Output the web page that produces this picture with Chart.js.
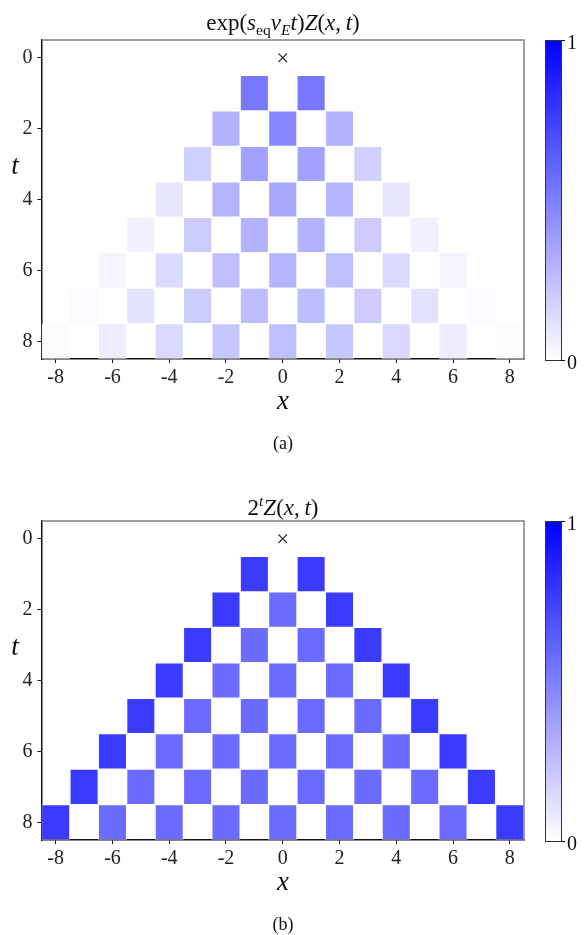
<!DOCTYPE html>
<html>
<head>
<meta charset="utf-8">
<script src="https://cdn.jsdelivr.net/npm/chart.js@4.4.1/dist/chart.umd.min.js"></script>
<style>
  body { margin: 0; background: #fff; }
  #page { position: relative; width: 587px; height: 935px; font-family: "Liberation Serif", serif; color: #111; }
  .box { position: absolute; left: 0; width: 587px; height: 400px; }
  .txt { position: absolute; white-space: nowrap; transform: translate(-50%, -50%); line-height: 1; }
  .title { font-size: 23px; }
  .lab { font-size: 27px; font-style: italic; }
  .cap { font-size: 18px; }
  .cbar { position: absolute; left: 545px; width: 15px; height: 319px; border: 1px solid #333;
          background: linear-gradient(to top, #fff, #00f); }
  .ctick { position: absolute; left: 561px; width: 4px; height: 1px; background: #111; }
  .clab { position: absolute; left: 567px; font-size: 20px; transform: translateY(-50%); }
  sub, sup { font-size: 68%; line-height: 0; }
</style>
</head>
<body>
<div id="page">
  <div class="box" style="top:0"><canvas id="chartA"></canvas></div>
  <div class="box" style="top:481px"><canvas id="chartB"></canvas></div>

  <div class="txt title" style="left:283px; top:22px">exp(<i>s</i><sub>eq</sub><i>v</i><sub><i>E</i></sub><i>t</i>)<i>Z</i>(<i>x</i>,&thinsp;<i>t</i>)</div>
  <div class="txt lab" style="left:15px; top:165px">t</div>
  <div class="txt lab" style="left:283px; top:400px">x</div>
  <div class="txt cap" style="left:283px; top:443px">(a)</div>
  <div class="cbar" style="top:40px"></div>
  <div class="ctick" style="top:40px"></div>
  <div class="ctick" style="top:360px"></div>
  <div class="clab" style="top:42px">1</div>
  <div class="clab" style="top:362px">0</div>

  <div class="txt title" style="left:283px; top:507px">2<sup><i>t</i></sup><i>Z</i>(<i>x</i>,&thinsp;<i>t</i>)</div>
  <div class="txt lab" style="left:15px; top:646px">t</div>
  <div class="txt lab" style="left:283px; top:881px">x</div>
  <div class="txt cap" style="left:283px; top:924px">(b)</div>
  <div class="cbar" style="top:521px"></div>
  <div class="ctick" style="top:521px"></div>
  <div class="ctick" style="top:841px"></div>
  <div class="clab" style="top:523px">1</div>
  <div class="clab" style="top:843px">0</div>
</div>

<script>
// time steps drawn as rows; row t holds cells at x = -t, -t+2, ..., t
const tRows = [1, 2, 3, 4, 5, 6, 7, 8];
const xTicks = [-8, -6, -4, -2, 0, 2, 4, 6, 8];
const tTicks = [0, 2, 4, 6, 8];
const origin = [{ x: 0, y: 0 }];

// (a) exp(s_eq v_E t) Z(x,t), read left to right for each row
const valuesA = [
  [0.53, 0.53],
  [0.30, 0.47, 0.30],
  [0.18, 0.37, 0.37, 0.18],
  [0.10, 0.29, 0.34, 0.29, 0.10],
  [0.06, 0.20, 0.30, 0.30, 0.20, 0.06],
  [0.04, 0.14, 0.25, 0.29, 0.25, 0.14, 0.04],
  [0.02, 0.11, 0.20, 0.26, 0.26, 0.20, 0.11, 0.02],
  [0.01, 0.07, 0.15, 0.22, 0.25, 0.22, 0.15, 0.07, 0.01],
];

// (b) 2^t Z(x,t)
const valuesB = [
  [0.77, 0.77],
  [0.77, 0.58, 0.77],
  [0.77, 0.58, 0.58, 0.77],
  [0.77, 0.58, 0.58, 0.58, 0.77],
  [0.77, 0.58, 0.58, 0.58, 0.58, 0.77],
  [0.77, 0.58, 0.58, 0.58, 0.58, 0.58, 0.77],
  [0.77, 0.58, 0.58, 0.58, 0.58, 0.58, 0.58, 0.77],
  [0.77, 0.58, 0.58, 0.58, 0.58, 0.58, 0.58, 0.58, 0.77],
];

function blue(v) {
  const c = Math.round(255 * (1 - v));
  return `rgb(${c},${c},255)`;
}

function cells(values) {
  const out = [];
  tRows.forEach((t, i) => {
    values[i].forEach((v, k) => {
      const x = -t + 2 * k;
      out.push({ y: t, x: [x - 0.5, x + 0.5], v: v });
    });
  });
  return out;
}

const framePlugin = {
  id: "frame",
  afterDraw(chart) {
    const a = chart.chartArea;
    const ctx = chart.ctx;
    ctx.save();
    ctx.strokeStyle = "#808080";
    ctx.lineWidth = 1.5;
    ctx.beginPath();
    ctx.moveTo(a.left, a.top);
    ctx.lineTo(a.right, a.top);
    ctx.lineTo(a.right, a.bottom);
    ctx.stroke();
    ctx.restore();
  },
};

function makeChart(id, values) {
  const data = cells(values);
  const tickFont = { family: "Liberation Serif", size: 20 };
  return new Chart(document.getElementById(id), {
    type: "bar",
    data: {
      datasets: [
        {
          data: data,
          backgroundColor: data.map((d) => blue(d.v)),
          borderColor: "rgba(255,255,255,0.45)",
          borderWidth: 1,
          borderSkipped: false,
          categoryPercentage: 1,
          barPercentage: 1,
        },
        {
          type: "scatter",
          data: origin,
          pointStyle: "crossRot",
          radius: 6,
          borderColor: "#333",
          borderWidth: 1.2,
        },
      ],
    },
    options: {
      indexAxis: "y",
      responsive: true,
      maintainAspectRatio: false,
      animation: false,
      layout: { padding: { top: 40, right: 63, left: 0, bottom: 0 } },
      plugins: { legend: { display: false }, tooltip: { enabled: false } },
      scales: {
        x: {
          type: "linear",
          min: -8.5,
          max: 8.5,
          afterBuildTicks: (s) => { s.ticks = xTicks.map((v) => ({ value: v })); },
          afterFit: (s) => { s.height = 41; },
          ticks: { color: "#222", font: tickFont, padding: 3, maxRotation: 0, autoSkip: false },
          grid: { drawOnChartArea: false, tickLength: 4, color: "#111", tickWidth: 1 },
          border: { display: true, color: "#111", width: 1.5 },
        },
        y: {
          type: "linear",
          reverse: true,
          offset: false,
          min: -0.5,
          max: 8.5,
          afterBuildTicks: (s) => { s.ticks = tTicks.map((v) => ({ value: v })); },
          afterFit: (s) => { s.width = 41.5; },
          ticks: { color: "#222", font: tickFont, padding: 5, autoSkip: false },
          grid: { offset: false, drawOnChartArea: false, tickLength: 4, color: "#111", tickWidth: 1 },
          border: { display: true, color: "#111", width: 1.5 },
        },
      },
    },
    plugins: [framePlugin],
  });
}

makeChart("chartA", valuesA);
makeChart("chartB", valuesB);
</script>
</body>
</html>
